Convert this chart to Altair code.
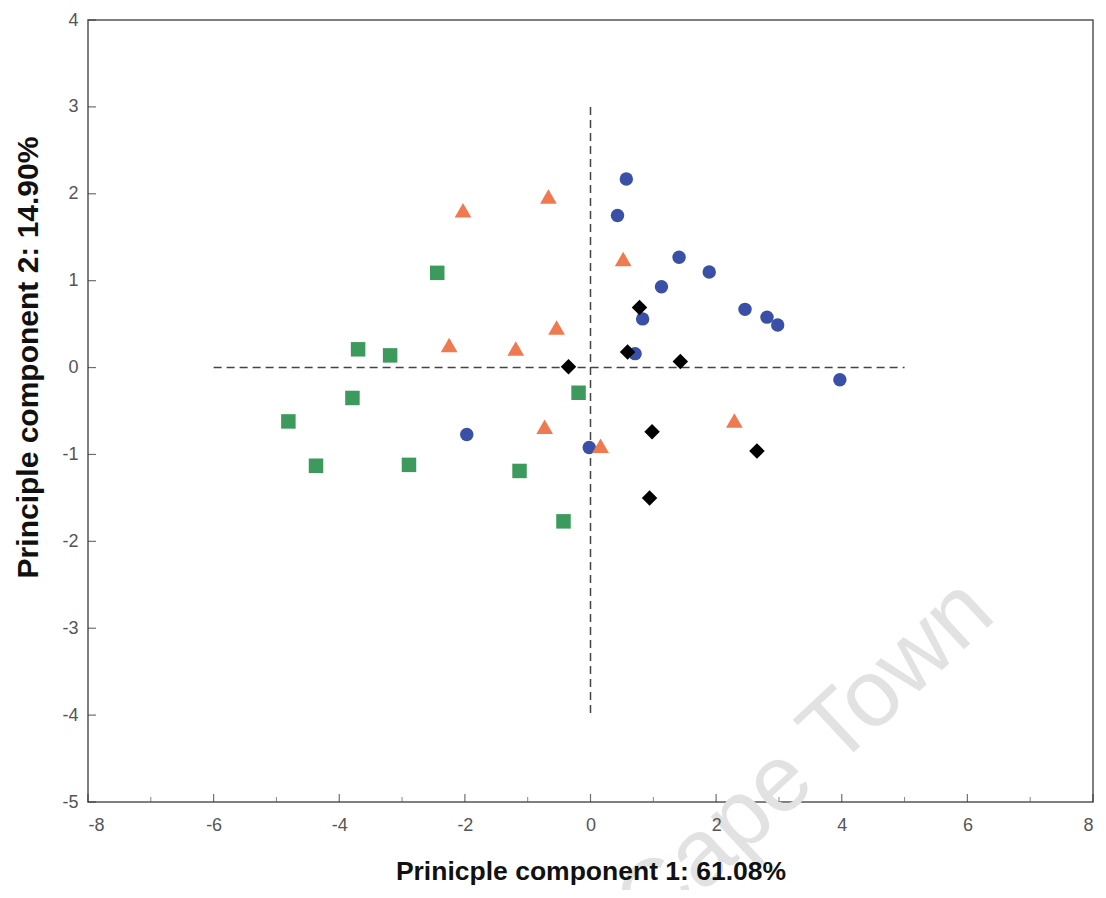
import altair as alt
import pandas as pd

# ---- data ----
blue_x = [0.57, 0.43, 1.41, 1.89, 1.13, 2.46, 2.81, 2.98, 0.83, 0.71, 3.97, -1.97, -0.02]
blue_y = [2.17, 1.75, 1.27, 1.10, 0.93, 0.67, 0.58, 0.49, 0.56, 0.16, -0.14, -0.77, -0.92]

black_x = [0.78, 0.59, 1.43, -0.35, 0.98, 2.65, 0.94]
black_y = [0.69, 0.18, 0.07, 0.01, -0.74, -0.96, -1.50]

orange_x = [-2.03, -0.67, 0.52, -0.54, -2.25, -1.19, -0.73, 0.16, 2.29]
orange_y = [1.81, 1.97, 1.25, 0.46, 0.26, 0.22, -0.68, -0.90, -0.61]

green_x = [-2.44, -3.70, -3.19, -3.79, -4.81, -4.37, -2.89, -1.13, -0.19, -0.43]
green_y = [1.09, 0.21, 0.14, -0.35, -0.62, -1.13, -1.12, -1.19, -0.29, -1.77]

groups = ["blue", "black", "orange", "green"]
group_colors = ["#3a4fa6", "#000000", "#f07a50", "#3c9a5c"]
group_shapes = ["circle", "diamond", "triangle-up", "square"]
group_sizes = [180, 240, 280, 210]

x_ticks = [-8, -6, -4, -2, 0, 2, 4, 6, 8]
x_minor = [-7, -5, -3, -1, 1, 3, 5, 7]
y_ticks = [-5, -4, -3, -2, -1, 0, 1, 2, 3, 4]

vline_x = [0]
vline_y = [3]
vline_y2 = [-4]
hline_y = [0]
hline_x = [-6]
hline_x2 = [5]

x_title = "Prinicple component 1: 61.08%"
y_title = "Principle component 2: 14.90%"
watermark = ["Cape Town"]

# ---- build tables ----
rows = []
for g, xs_, ys_ in [("blue", blue_x, blue_y), ("black", black_x, black_y),
                    ("orange", orange_x, orange_y), ("green", green_x, green_y)]:
    for a, b in zip(xs_, ys_):
        rows.append({"pc1": a, "pc2": b, "group": g})
pts = pd.DataFrame(rows)

xs = alt.Scale(domain=[-8, 8], nice=False, zero=False)
ys = alt.Scale(domain=[-5, 4], nice=False, zero=False)

label_font = "Liberation Sans Narrow, Liberation Sans, sans-serif"
title_font = "Liberation Sans Narrow, Liberation Sans, sans-serif"
hyphen_expr = "replace(datum.label, '\u2212', '-')"

x_axis = alt.Axis(values=x_ticks, format="d", labelExpr=hyphen_expr, title=x_title,
                  tickSize=0, domain=False, grid=False,
                  labelFont=label_font, labelFontSize=18, labelColor="#555555",
                  labelPadding=14, titleFont=title_font, titleFontSize=26.5,
                  titleFontWeight="bold", titleColor="#111111", titlePadding=24, zindex=1)
y_axis = alt.Axis(values=y_ticks, format="d", labelExpr=hyphen_expr, title=y_title,
                  tickSize=0, domain=False, grid=False,
                  labelFont=label_font, labelFontSize=18, labelColor="#555555",
                  labelPadding=10, titleFont=title_font, titleFontSize=30,
                  titleFontWeight="bold", titleColor="#111111",
                  titleX=-45, titleY=337, zindex=1)

wm = alt.Chart(pd.DataFrame({"t": watermark})).mark_text(
    angle=317, fontSize=95, color="#e2e2e2", font="Liberation Sans"
).encode(x=alt.value(717), y=alt.value(738), text="t")

vline = alt.Chart(pd.DataFrame({"x": vline_x, "y": vline_y, "y2": vline_y2})).mark_rule(
    color="#444444", strokeDash=[8, 5], strokeWidth=1.5
).encode(x=alt.X("x:Q", scale=xs, axis=x_axis), y=alt.Y("y:Q", scale=ys, axis=y_axis), y2="y2")

hline = alt.Chart(pd.DataFrame({"y": hline_y, "x": hline_x, "x2": hline_x2})).mark_rule(
    color="#444444", strokeDash=[8, 5], strokeWidth=1.5
).encode(x=alt.X("x:Q", scale=xs), x2="x2", y=alt.Y("y:Q", scale=ys))

xt = alt.Chart(pd.DataFrame({"v": x_ticks})).mark_tick(
    orient="vertical", size=8, thickness=1.2, color="#333333", yOffset=-4
).encode(x=alt.X("v:Q", scale=xs), y=alt.datum(-5, scale=ys))

xtm = alt.Chart(pd.DataFrame({"v": x_minor})).mark_tick(
    orient="vertical", size=5, thickness=1, color="#555555", yOffset=-2.5
).encode(x=alt.X("v:Q", scale=xs), y=alt.datum(-5, scale=ys))

yt = alt.Chart(pd.DataFrame({"v": y_ticks})).mark_tick(
    orient="horizontal", size=8, thickness=1.2, color="#333333", xOffset=4
).encode(y=alt.Y("v:Q", scale=ys), x=alt.datum(-8, scale=xs))

points = alt.Chart(pts).mark_point(filled=True, opacity=1, strokeWidth=0).encode(
    x=alt.X("pc1:Q", scale=xs),
    y=alt.Y("pc2:Q", scale=ys),
    color=alt.Color("group:N", scale=alt.Scale(domain=groups, range=group_colors), legend=None),
    shape=alt.Shape("group:N", scale=alt.Scale(domain=groups, range=group_shapes), legend=None),
    size=alt.Size("group:N", scale=alt.Scale(type="ordinal", domain=groups, range=group_sizes),
                  legend=None),
)

chart = alt.layer(wm, vline, hline, xt, xtm, yt, points).properties(
    width=1005, height=782,
    autosize=alt.AutoSizeParams(type="none"),
    padding={"left": 80, "top": 12, "right": 5, "bottom": 88},
    background="white",
).configure_view(stroke="#555555", strokeWidth=1.5)

chart.save("out.html", embed_options={"renderer": "svg", "actions": False})
